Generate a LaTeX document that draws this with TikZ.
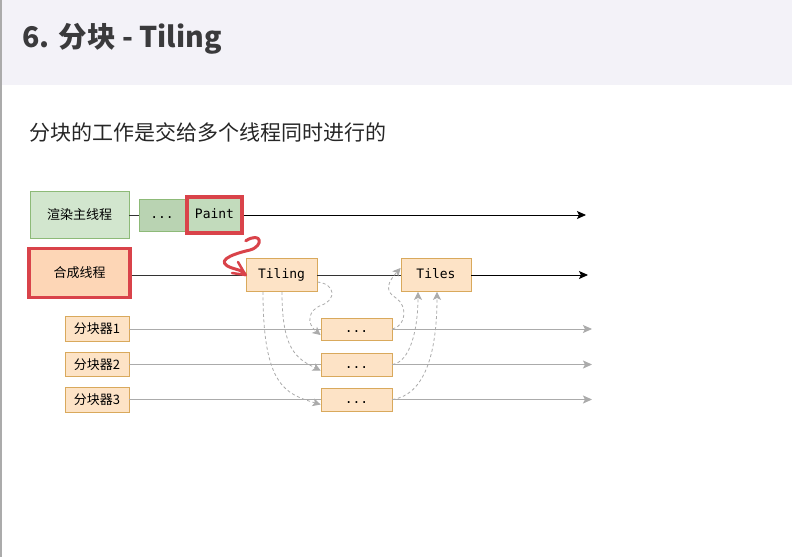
\documentclass[tikz,border=0pt]{standalone}
\usepackage{fontspec}
\setmainfont{Noto Sans CJK SC}
\newfontfamily\cjk{Noto Sans CJK SC}
\newfontfamily\monof{DejaVu Sans Mono}
\usetikzlibrary{arrows.meta}
\definecolor{titlebg}{HTML}{F3F2F8}
\definecolor{titletx}{HTML}{3A3A3C}
\definecolor{gfill}{HTML}{D2E6CE}
\definecolor{gfilldk}{HTML}{B9D3B2}
\definecolor{gfillp}{HTML}{C2DBBC}
\definecolor{gline}{HTML}{8DBA78}
\definecolor{ofill}{HTML}{FDE3C6}
\definecolor{ofillc}{HTML}{FDD6B6}
\definecolor{oline}{HTML}{D9A95C}
\definecolor{hred}{HTML}{D9434A}
\definecolor{lgrey}{HTML}{ABABAB}
\tikzset{
  gbox/.style={draw=gline, fill=gfill, line width=0.8pt, inner sep=0pt, font=\cjk\fontsize{13}{15}\selectfont, text=black},
  obox/.style={draw=oline, fill=ofill, line width=0.8pt, inner sep=0pt, text=black},
  mono/.style={font=\monof\fontsize{13}{15}\selectfont, text height=9.5pt, text depth=2.5pt},
  cjklab/.style={font=\cjk\fontsize{13}{15}\selectfont},
  hl/.style={draw=hred, line width=3.5pt},
  mainarrow/.style={draw=black, line width=0.9pt, -{Stealth[length=9pt,width=8pt,inset=2pt]}},
  mainline/.style={draw=black!80, line width=0.9pt},
  greyarrow/.style={draw=lgrey, line width=0.9pt, -{Stealth[length=9pt,width=8pt,inset=2pt]}},
  greyline/.style={draw=lgrey, line width=0.9pt},
  dasharrow/.style={draw=lgrey, line width=0.8pt, dash pattern=on 3pt off 2.5pt, -{Stealth[length=8pt,width=8pt,inset=2pt]}},
}
\begin{document}
\begin{tikzpicture}[x=1pt,y=-1pt]
\useasboundingbox (0,0) rectangle (792,557);
\fill[white] (0,0) rectangle (792,557);
\fill[titlebg] (0,0) rectangle (792,85);
\draw[lgrey, line width=2pt] (1,0) -- (1,557);
\node[anchor=west, text=titletx, font=\cjk\bfseries\fontsize{28.5}{31}\selectfont] (title) at (19,39) {6. 分块 - Tiling};
\node[anchor=west, text=black!85, font=\cjk\fontsize{21}{24}\selectfont] (sub) at (26,132) {分块的工作是交给多个线程同时进行的};

\coordinate (mainend) at (586,215);
\coordinate (compend) at (588,275);
\coordinate (e1) at (592,329);
\coordinate (e2) at (592,364);
\coordinate (e3) at (592,399);

% nodes
\node[gbox, minimum width=99pt, minimum height=47pt] (main) at (79.5,215) {渲染主线程};
\node[gbox, fill=gfilldk, minimum width=46pt, minimum height=32pt, mono] (dots0) at (162,215) {...};
\node[gbox, fill=gfillp, hl, minimum width=55pt, minimum height=36pt, mono] (paint) at (214.5,215) {Paint};
\node[obox, fill=ofillc, hl, minimum width=101pt, minimum height=49pt, cjklab] (comp) at (79.5,273) {合成线程};
\node[obox, minimum width=71pt, minimum height=33pt, mono] (tiling) at (281.5,275) {Tiling};
\node[obox, minimum width=70pt, minimum height=33pt, mono] (tiles) at (436,275) {Tiles};
\node[obox, minimum width=64pt, minimum height=25pt, cjklab] (s1) at (97,329) {分块器1};
\node[obox, minimum width=64pt, minimum height=24pt, cjklab] (s2) at (97,364.5) {分块器2};
\node[obox, minimum width=64pt, minimum height=25pt, cjklab] (s3) at (97,399.5) {分块器3};
\node[obox, minimum width=71pt, minimum height=22pt, mono] (d1) at (356.5,329) {...};
\node[obox, minimum width=71pt, minimum height=23pt, mono] (d2) at (356.5,364.5) {...};
\node[obox, minimum width=71pt, minimum height=23pt, mono] (d3) at (356.5,399.5) {...};

% connectors
\draw[mainline] (main.east) -- (dots0.west);
\draw[mainarrow] (paint.east) -- (mainend);
\draw[mainline] (comp.east |- tiling.west) -- (tiling.west);
\draw[mainline] (tiling.east) -- (tiles.west);
\draw[mainarrow] (tiles.east) -- (compend);
\draw[greyline] (s1.east) -- (d1.west);
\draw[greyline] (s2.east) -- (d2.west);
\draw[greyline] (s3.east) -- (d3.west);
\draw[greyarrow] (d1.east) -- (d1.east -| e1);
\draw[greyarrow] (d2.east) -- (d2.east -| e2);
\draw[greyarrow] (d3.east) -- (d3.east -| e3);

% dashed distribution
\draw[dasharrow] ([xshift=-18.5pt]tiling.south) .. controls (263,385) and (285,394) .. ([yshift=-5pt]d3.west);
\draw[dasharrow] ([xshift=0.5pt]tiling.south) .. controls (282,348) and (295,358) .. ([yshift=-6pt]d2.west);
\draw[dasharrow] ([yshift=-7pt]tiling.east) .. controls (336,284) and (336,300) .. (322,305) .. controls (308,310) and (306,323) .. ([yshift=-6pt]d1.west);
\draw[dasharrow] (d1.east) .. controls (406,326) and (408,306) .. (396,298) .. controls (384,291) and (388,282) .. ([yshift=7pt]tiles.west);
\draw[dasharrow] (d2.east) .. controls (410,362) and (418,330) .. ([xshift=-18pt]tiles.south);
\draw[dasharrow] (d3.east) .. controls (424,395) and (437,355) .. ([xshift=1pt]tiles.south);

% red squiggle
\draw[hred, line width=3pt, line cap=round, line join=round] ([xshift=2pt,yshift=-6pt]paint.south east) .. controls (262,231) and (264,246) .. (250,250) .. controls (228,255) and (215,262) .. (232,268) .. controls (238,270) and (242,270) .. (tiling.west);
\draw[hred, line width=2.5pt, line cap=round, line join=round] (238,262) -- (tiling.west) -- (232,273);
\end{tikzpicture}
\end{document}
